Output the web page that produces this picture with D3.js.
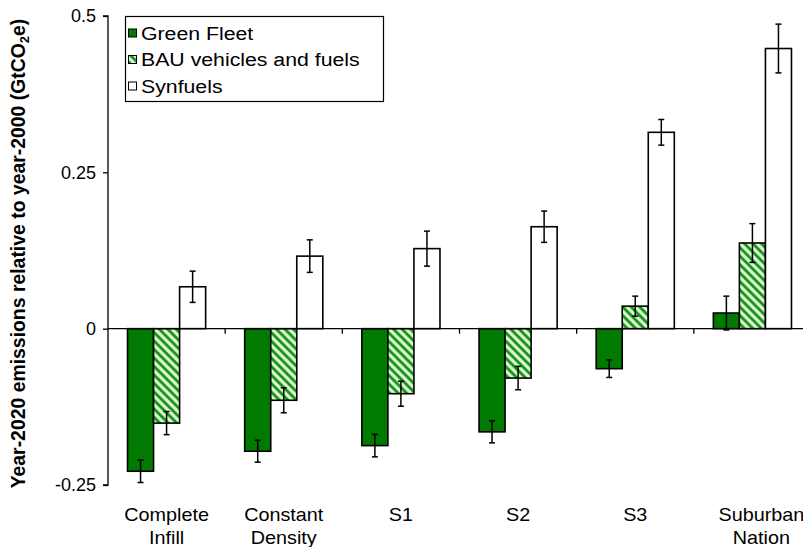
<!DOCTYPE html>
<html>
<head>
<meta charset="utf-8">
<script src="https://cdn.jsdelivr.net/npm/d3@7"></script>
<style>
  html, body { margin: 0; padding: 0; background: #fff; }
  svg { display: block; }
  text { font-family: "Liberation Sans", Arial, sans-serif; fill: #000; }
</style>
</head>
<body>
<svg id="chart" width="803" height="547"></svg>
<script>
// Scenario groups along the x axis (multi-line labels)
const categories = [["Complete", "Infill"], ["Constant", "Density"], ["S1"], ["S2"], ["S3"], ["Suburban", "Nation"]];
const seriesNames = ["Green Fleet", "BAU vehicles and fuels", "Synfuels"];

// Year-2020 emissions relative to year-2000 (GtCO2e), with error half-widths
const greenFleet    = [-0.228, -0.196, -0.187, -0.165, -0.064, 0.025];
const greenFleetErr = [0.018, 0.0175, 0.018, 0.0176, 0.014, 0.027];
const bau           = [-0.151, -0.1145, -0.104, -0.079, 0.036, 0.137];
const bauErr        = [0.0185, 0.020, 0.020, 0.0187, 0.016, 0.031];
const synfuels      = [0.067, 0.116, 0.128, 0.163, 0.314, 0.448];
const synfuelsErr   = [0.025, 0.026, 0.028, 0.025, 0.0205, 0.039];

const yTicks = [-0.25, 0, 0.25, 0.5];
const yTickLabels = ["-0.25", "0", "0.25", "0.5"];

const seriesValues = [greenFleet, bau, synfuels];
const seriesErrors = [greenFleetErr, bauErr, synfuelsErr];

const svg = d3.select("#chart");
const WIDEN = 1.1; // horizontal stretch applied to the label text

// Hatch pattern for the BAU series
const defs = svg.append("defs");
const pat = defs.append("pattern")
  .attr("id", "hatch")
  .attr("patternUnits", "userSpaceOnUse")
  .attr("width", 6).attr("height", 6)
  .attr("patternTransform", "rotate(-45)");
pat.append("rect").attr("width", 6).attr("height", 6).attr("fill", "#d9f7d0");
pat.append("line").attr("x1", 1.5).attr("y1", 0).attr("x2", 1.5).attr("y2", 6)
  .attr("stroke", "#0a8a0a").attr("stroke-width", 2.6);

const fills = ["#007a00", "url(#hatch)", "#ffffff"];

const x0 = d3.scaleBand().domain(d3.range(categories.length)).range([108, 811]).paddingInner(0).paddingOuter(0);
const x1 = d3.scaleBand().domain(d3.range(seriesNames.length)).range([0, x0.bandwidth()]).paddingInner(0).paddingOuter(0.75);
const y = d3.scaleLinear().domain([-0.25, 0.5]).range([485, 16]);

// Y axis
const yAxis = d3.axisLeft(y).tickValues(yTicks).tickFormat((d, i) => yTickLabels[i]).tickSize(5).tickPadding(7);
const gy = svg.append("g").attr("transform", "translate(108,0)").call(yAxis);
gy.select(".domain").attr("d", `M-5,${y(0.5)}H0V${y(-0.25)}H-5`).attr("stroke", "#000").attr("stroke-width", 1.3);
gy.selectAll(".tick line").attr("stroke", "#000").attr("stroke-width", 1.3);
gy.selectAll(".tick text").style("font-size", "18px").attr("font-family", "Liberation Sans, Arial, sans-serif").attr("fill", "#000");

// Bars
const groups = svg.append("g").selectAll("g")
  .data(categories.map((c, i) => i))
  .join("g")
  .attr("transform", i => `translate(${x0(i)},0)`);

groups.selectAll("rect")
  .data(i => seriesValues.map((vals, s) => ({ s, v: vals[i], e: seriesErrors[s][i] })))
  .join("rect")
  .attr("x", d => x1(d.s))
  .attr("width", x1.bandwidth())
  .attr("y", d => y(Math.max(0, d.v)))
  .attr("height", d => Math.abs(y(d.v) - y(0)))
  .attr("fill", d => fills[d.s])
  .attr("stroke", "#000")
  .attr("stroke-width", 1.6);

// Error bars
const eb = groups.selectAll("g.err")
  .data(i => seriesValues.map((vals, s) => ({ s, v: vals[i], e: seriesErrors[s][i] })))
  .join("g").attr("class", "err")
  .attr("stroke", "#000").attr("stroke-width", 1.5);
eb.append("line")
  .attr("x1", d => x1(d.s) + x1.bandwidth() / 2).attr("x2", d => x1(d.s) + x1.bandwidth() / 2)
  .attr("y1", d => y(d.v + d.e)).attr("y2", d => y(d.v - d.e));
eb.append("line")
  .attr("x1", d => x1(d.s) + x1.bandwidth() / 2 - 3).attr("x2", d => x1(d.s) + x1.bandwidth() / 2 + 3)
  .attr("y1", d => y(d.v + d.e)).attr("y2", d => y(d.v + d.e));
eb.append("line")
  .attr("x1", d => x1(d.s) + x1.bandwidth() / 2 - 3).attr("x2", d => x1(d.s) + x1.bandwidth() / 2 + 3)
  .attr("y1", d => y(d.v - d.e)).attr("y2", d => y(d.v - d.e));

// Zero baseline with category separators
const base = svg.append("g").attr("stroke", "#000").attr("stroke-width", 1.3);
base.append("line").attr("x1", 108).attr("x2", 811).attr("y1", y(0)).attr("y2", y(0));
base.selectAll("line.sep")
  .data(d3.range(1, categories.length))
  .join("line").attr("class", "sep")
  .attr("x1", i => x0(i)).attr("x2", i => x0(i))
  .attr("y1", y(0)).attr("y2", y(0) + 5);

// Category labels
const labelGroups = svg.append("g").selectAll("g")
  .data(categories)
  .join("g")
  .attr("transform", (c, i) =>
    `translate(${x0(i) + x0.bandwidth() / 2 + (i === categories.length - 1 ? 9 : 0)},521) scale(${WIDEN},1)`);
labelGroups.append("text")
  .attr("text-anchor", "middle")
  .style("font-size", "18px")
  .selectAll("tspan")
  .data(c => c)
  .join("tspan")
  .attr("x", 0)
  .attr("dy", (d, j) => j === 0 ? 0 : 23)
  .text(d => d);

// Y axis title
const title = svg.append("text")
  .attr("transform", `translate(25,${(y(0.5) + y(-0.25)) / 2 + 3}) rotate(-90)`)
  .attr("text-anchor", "middle")
  .style("font-size", "19.4px")
  .style("font-weight", "bold");
title.append("tspan").text("Year-2020 emissions relative to year-2000 (GtCO");
title.append("tspan").attr("dy", 4).style("font-size", "13px").text("2");
title.append("tspan").attr("dy", -4).text("e)");

// Legend
const legend = svg.append("g");
legend.append("rect").attr("x", 125.5).attr("y", 16.5).attr("width", 258).attr("height", 85)
  .attr("fill", "#fff").attr("stroke", "#000").attr("stroke-width", 1.2);
const li = legend.selectAll("g.item").data(seriesNames).join("g").attr("class", "item")
  .attr("transform", (d, i) => `translate(128.5,${29 + i * 26.5})`);
li.append("rect").attr("width", 8).attr("height", 8)
  .attr("fill", (d, i) => fills[i]).attr("stroke", "#000").attr("stroke-width", 1);
li.append("text")
  .attr("transform", `translate(12.5,10.5) scale(${WIDEN + 0.02},1)`)
  .style("font-size", "19px").text(d => d);
</script>
</body>
</html>
